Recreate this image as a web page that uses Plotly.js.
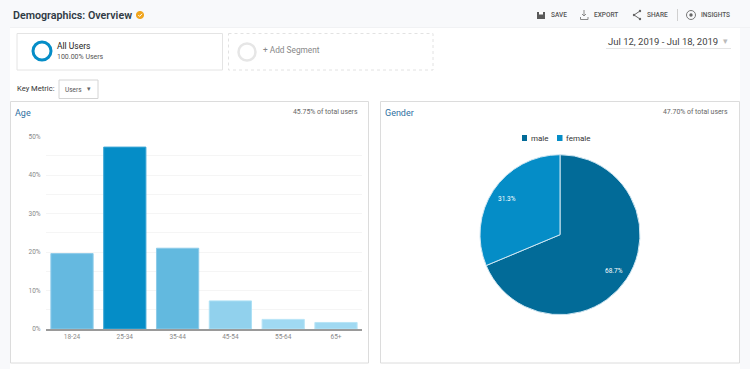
<!DOCTYPE html>
<html><head><meta charset="utf-8">
<script src="https://cdn.plot.ly/plotly-3.0.1.min.js"></script>
<style>html,body{margin:0;padding:0;background:#fff;overflow:hidden}#c{width:750px;height:369px}</style>
</head><body><div id="c"></div>
<script>
const ageCategories = ['18-24','25-34','35-44','45-54','55-64','65+'];
const ageValues = [19.6, 47.3, 21.0, 7.3, 2.5, 1.7];
const ageColors = ['#65b9e0','#058dc7','#62b9df','#91d1ed','#a0d9f2','#a0d9f2'];
const ageBorders = ['#8ccbe9','#3fa8d6','#8ccbe9','#ace0f5','#b8e4f6','#b8e4f6'];
const yTickVals = [0,5,10,15,20,25,30,35,40,45,50];
const yTickText = ['0%','','10%','','20%','','30%','','40%','','50%'];
const genderLabels = ['male','female'];
const genderValues = [68.7, 31.3];
const genderColors = ['#026b98','#058dc7'];

const W=750,H=369;
const fx=p=>p/W, fy=p=>1-p/H;
const rect=(x0,y0,x1,y1,fill,line,lw,dash)=>({type:'rect',xref:'paper',yref:'paper',x0:fx(x0),x1:fx(x1),y0:fy(y0),y1:fy(y1),
  fillcolor:fill||'rgba(0,0,0,0)',line:{color:line||'rgba(0,0,0,0)',width:lw||0,dash:dash||'solid'},layer:'below'});
const circ=(cx,cy,r,fill,line,lw)=>({type:'circle',xref:'paper',yref:'paper',x0:fx(cx-r),x1:fx(cx+r),y0:fy(cy+r),y1:fy(cy-r),
  fillcolor:fill||'rgba(0,0,0,0)',line:{color:line,width:lw||0},layer:'below'});
const seg=(x0,y0,x1,y1,c,w)=>({type:'line',xref:'paper',yref:'paper',x0:fx(x0),x1:fx(x1),y0:fy(y0),y1:fy(y1),line:{color:c,width:w||1},layer:'below'});
const font=(size,color,weight)=>({family:'Roboto, sans-serif',size:size,color:color,weight:weight||400});
const txt=(x,y,t,size,color,anchor,weight)=>({xref:'paper',yref:'paper',x:fx(x),y:fy(y),text:t,showarrow:false,
  xanchor:anchor||'left',yanchor:'middle',font:font(size,color,weight),borderpad:0,borderwidth:0});

const shapes=[
  rect(0,0,750,369,'#f8f9fb'),
  rect(10,28,740,369,'#ffffff'),
  rect(10,27,750,28,'#f1f2f4'),
  rect(17,33.5,222.5,70,'#ffffff','#e4e4e4',1),
  circ(42,51,9,'#ffffff','#058dc7',3),
  rect(228.5,33.5,433,70,'#ffffff','#e2e2e2',1,'dot'),
  circ(247,52,8.5,'#ffffff','#e6e6e6',2.5),
  rect(59,80,98,98.5,'#ffffff','#d4d4d4',1),
  rect(10.5,101.5,368.5,363,'#ffffff','#dcdcdc',1),
  rect(380.5,101.5,739.5,363,'#ffffff','#dcdcdc',1),
  seg(606,48.5,731,48.5,'#e4e4e4',1),
  seg(677.5,9,677.5,21,'#d0d0d0',1),
  circ(140,15,3.6,'#f0a51e','#f0a51e',1),
  seg(138.3,15,139.6,16.4,'#ffffff',1), seg(139.6,16.4,142,13.8,'#ffffff',1),
  rect(537,12,545,19,'#5a5a5a'),
  rect(539,12,543,14.5,'#ffffff'),
  seg(584,10,584,16,'#888',1), seg(582,14,584,16,'#888',1), seg(586,14,584,16,'#888',1),
  seg(580.5,17,580.5,19.5,'#888',1), seg(588,17,588,19.5,'#888',1), seg(580.5,19.5,588,19.5,'#888',1),
  seg(634,15,640,11,'#666',1), seg(634,15,640,19,'#666',1),
  circ(634,15,1.2,'#666','#666',0), circ(640,11,1.2,'#666','#666',0), circ(640,19,1.2,'#666','#666',0),
  circ(691,15,4.5,'rgba(0,0,0,0)','#777',1), circ(691,15,1.7,'#666','#666',0),
  rect(522,135,527,141,genderColors[0]), rect(557,135,562.5,141,genderColors[1])
];

const annotations=[
  txt(13,15,'Demographics: Overview',10.7,'#2f3a44','left',600),
  txt(551,15,'SAVE',6.5,'#555555','left',500),
  txt(594,15,'EXPORT',6.5,'#555555','left',500),
  txt(646.5,15,'SHARE',6.5,'#555555','left',500),
  txt(701,15,'INSIGHTS',6.5,'#555555','left',500),
  txt(57,46.5,'All Users',8.5,'#222222'),
  txt(57,56.5,'100.00% Users',7,'#555555'),
  txt(263,50,'+ Add Segment',8.3,'#888888'),
  txt(608,41,'Jul 12, 2019 - Jul 18, 2019',9.5,'#444444'),
  txt(725.5,41,'▾',9,'#bbbbbb','center'),
  txt(17,89,'Key Metric:',7.6,'#333333'),
  txt(65,89.5,'Users',6.5,'#555555'),
  txt(89,89,'▾',7,'#666666','center'),
  txt(15,113,'Age',9,'#2f6f9f'),
  txt(358,112,'45.75% of total users',6.9,'#666666','right'),
  txt(385,113,'Gender',9,'#2f6f9f'),
  txt(728,112,'47.70% of total users',6.9,'#666666','right'),
  txt(530.5,138.5,'male',8,'#333333'),
  txt(566,138.5,'female',8,'#333333'),
  txt(614,270.7,genderValues[0].toFixed(1)+'%',6.5,'#ffffff','center'),
  txt(506.7,199,genderValues[1].toFixed(1)+'%',6.5,'#ffffff','center'),
];

const traces=[
 {type:'bar',x:ageCategories,y:ageValues,width:0.8,marker:{color:ageColors,line:{color:ageBorders,width:1}},hoverinfo:'x+y',cliponaxis:false},
 {type:'pie',labels:genderLabels,values:genderValues,sort:false,direction:'clockwise',rotation:0,
  marker:{colors:genderColors,line:{color:'#cfe6f2',width:1}},textinfo:'none',
  domain:{x:[fx(480),fx(640)],y:[fy(314.7),fy(154.7)]},showlegend:false}
];
const layout={
 width:W,height:H,margin:{l:0,r:0,t:0,b:0},paper_bgcolor:'#f8f9fb',plot_bgcolor:'rgba(0,0,0,0)',showlegend:false,
 shapes,annotations,
 xaxis:{domain:[fx(45.6),fx(362.4)],type:'category',tickfont:font(6.5,'#888888'),
   showgrid:false,ticks:'',showline:true,linecolor:'#9a9a9a',linewidth:1.5,zeroline:false},
 yaxis:{domain:[fy(329),fy(136.7)],range:[0,50],tickvals:yTickVals,ticktext:yTickText,ticklabelstandoff:4,
   tickfont:font(6.5,'#888888'),gridcolor:'#f5f5f5',gridwidth:1,zeroline:false,ticks:'',showline:false}
};
Plotly.newPlot('c',traces,layout,{displayModeBar:false,responsive:false});
</script></body></html>
